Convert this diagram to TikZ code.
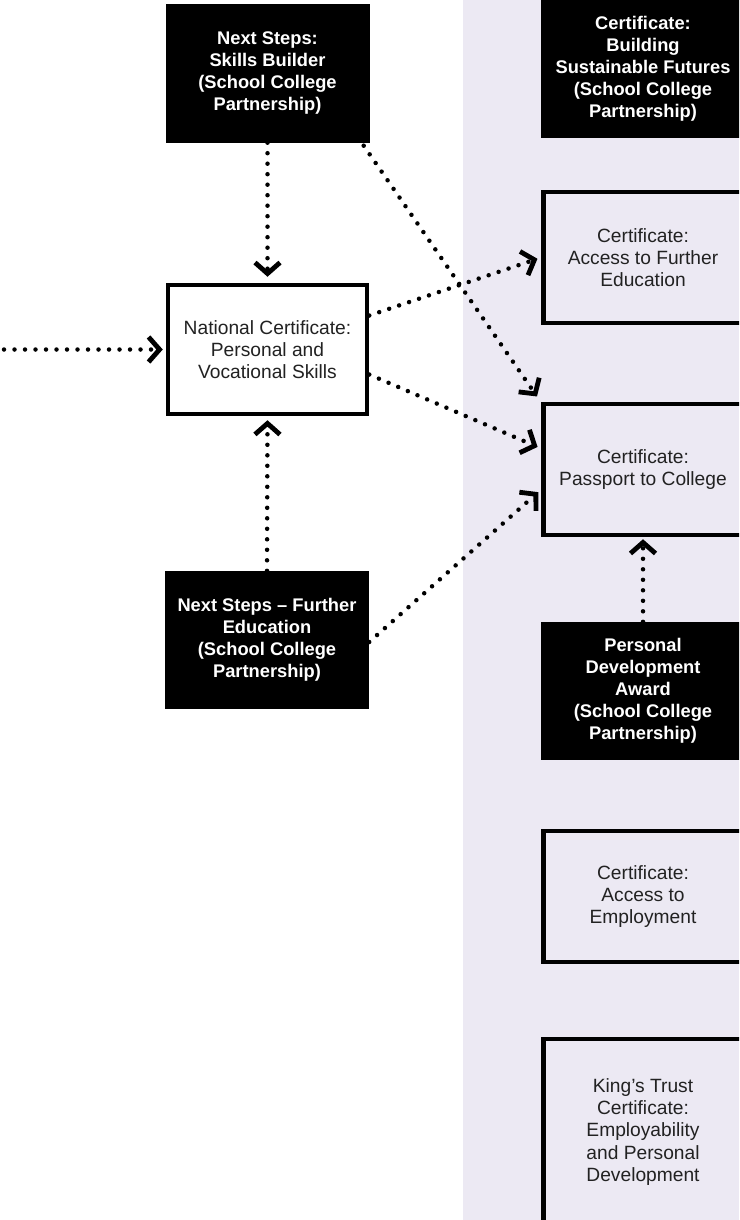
\documentclass[tikz,border=0pt]{standalone}
\usepackage{fontspec}
\setmainfont{Liberation Sans}
\usetikzlibrary{arrows.meta}
\definecolor{panel}{RGB}{236,233,243}
\definecolor{txt}{RGB}{34,34,34}
\tikzset{
  darkbox/.style={fill=black, text=white, inner sep=0pt, align=center,
    font=\fontsize{18.3}{22}\selectfont\bfseries, minimum width=204pt, minimum height=138pt},
  linebox/.style={draw=black, line width=4.5pt, text=txt, inner sep=0pt, align=center,
    font=\fontsize{19.2}{22.3}\selectfont, minimum width=199pt},
  flow/.style={line width=4.5pt, dash pattern=on 0pt off 10.5pt, line cap=round,
    -{Straight Barb[length=11pt,width=25pt,line width=4.8pt]}, shorten >=4pt}
}
\begin{document}
\begin{tikzpicture}[x=1pt,y=-1pt]
\clip (0,0) rectangle (739,1220);
\fill[panel] (463,0) rectangle (739,1220);
% left column
\node[darkbox] (sb) at (267.5,73.5) {Next Steps:\\Skills Builder\\(School College\\Partnership)};
\node[linebox, minimum height=129pt, fill=white] (nc) at (267.5,349.5) {National Certificate:\\Personal and\\Vocational Skills};
\node[darkbox] (nsfe) at (267,640) {Next Steps -- Further\\Education\\(School College\\Partnership)};
% right column
\node[darkbox] (bsf) at (643,69) {Certificate:\\Building\\Sustainable Futures\\(School College\\Partnership)};
\node[linebox, minimum height=131pt] (afe) at (643,257.5) {Certificate:\\Access to Further\\Education};
\node[linebox, minimum height=131pt] (ptc) at (643,469.5) {Certificate:\\Passport to College};
\node[darkbox] (pda) at (643,691) {Personal\\Development\\Award\\(School College\\Partnership)};
\node[linebox, minimum height=131pt] (ate) at (643,896.5) {Certificate:\\Access to\\Employment};
\node[linebox, minimum height=186pt] (kt) at (643,1132) {King's Trust\\Certificate:\\Employability\\and Personal\\Development};
% connectors
\coordinate (in) at (4,349.5);
\draw[flow, shorten >=3pt] (in) -- (nc.west);
\draw[flow, shorten >=6pt] (sb.south) -- (nc.north);
\draw[flow] ([xshift=-6pt,yshift=-3pt]sb.south east) -- ([xshift=-2pt,yshift=2pt]ptc.north west);
\draw[flow] ([yshift=34pt]nc.east) -- (afe.west);
\draw[flow] ([yshift=-25pt]nc.east) -- ([yshift=21pt]ptc.west);
\draw[flow] ([yshift=-2pt]nsfe.east) -- ([yshift=-20pt]ptc.west);
\draw[flow] (nsfe.north) -- (nc.south);
\draw[flow, shorten >=2pt] (pda.north) -- (ptc.south);
\end{tikzpicture}
\end{document}
